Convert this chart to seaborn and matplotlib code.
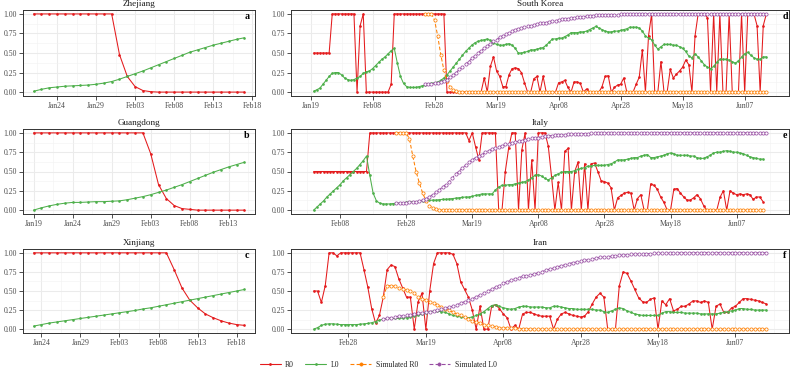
import numpy as np
import pandas as pd
import matplotlib
matplotlib.use("Agg")
import matplotlib.pyplot as plt
import matplotlib.dates as mdates
from matplotlib.lines import Line2D
import seaborn as sns

# ---------------- data ----------------
series_labels = ["R0", "L0", "Simulated R0", "Simulated L0"]
panel_titles = ["Zhejiang", "Guangdong", "Xinjiang", "South Korea", "Italy", "Iran"]
panel_letters = ["a", "b", "c", "d", "e", "f"]
left_tick_dates = ["2020-01-19", "2020-01-24", "2020-01-29", "2020-02-03", "2020-02-08", "2020-02-13", "2020-02-18"]
right_tick_dates = ["2020-01-19", "2020-02-08", "2020-02-28", "2020-03-19", "2020-04-08", "2020-04-28", "2020-05-18", "2020-06-07"]
y_ticks = [0.0, 0.25, 0.5, 0.75, 1.0]

zj_start = "2020-01-21"
zj_r0 = [1, 1, 1, 1, 1, 1, 1, 1, 1, 1, 1, 0.48, 0.2, 0.07, 0.02, 0.005, 0, 0, 0, 0, 0, 0, 0, 0, 0, 0, 0, 0]
zj_l0 = [0.01, 0.035, 0.055, 0.065, 0.075, 0.08, 0.085, 0.09, 0.1, 0.115, 0.135, 0.165, 0.2, 0.235,
         0.27, 0.31, 0.35, 0.39, 0.43, 0.47, 0.51, 0.54, 0.57, 0.6, 0.625, 0.65, 0.675, 0.695]

gd_start = "2020-01-19"
gd_r0 = [1, 1, 1, 1, 1, 1, 1, 1, 1, 1, 1, 1, 1, 1, 1, 0.73, 0.33, 0.15, 0.06, 0.02, 0.01, 0, 0, 0, 0, 0, 0, 0]
gd_l0 = [0.0, 0.03, 0.055, 0.075, 0.09, 0.1, 0.1, 0.105, 0.11, 0.11, 0.115, 0.12, 0.135, 0.155,
         0.175, 0.2, 0.23, 0.26, 0.295, 0.33, 0.37, 0.41, 0.45, 0.49, 0.525, 0.56, 0.59, 0.62]

xj_start = "2020-01-23"
xj_r0 = [1, 1, 1, 1, 1, 1, 1, 1, 1, 1, 1, 1, 1, 1, 1, 1, 1, 1, 0.78, 0.54, 0.38, 0.28, 0.2, 0.15, 0.11, 0.08, 0.06, 0.05]
xj_l0 = [0.04, 0.06, 0.08, 0.095, 0.11, 0.125, 0.14, 0.155, 0.17, 0.185, 0.2, 0.215, 0.23, 0.245,
         0.265, 0.28, 0.3, 0.32, 0.34, 0.36, 0.38, 0.4, 0.42, 0.44, 0.46, 0.48, 0.5, 0.52]

kr_start = "2020-01-20"
kr_r0 = [0.5, 0.5, 0.5, 0.5, 0.5, 0.5, 1, 1, 1, 1, 1, 1, 1, 1, 0, 0.85, 1, 0, 0, 0, 0, 0, 0, 0, 0, 0.1,
         1, 1, 1, 1, 1, 1, 1, 1, 1, 1, 1, 1, 1, 1, 1, 1, 1,
         0, 0, 0, 0, 0, 0, 0, 0, 0, 0, 0, 0,
         0.18, 0, 0.33, 0.45, 0.27, 0.2, 0.07, 0.07, 0.22, 0.3, 0.31, 0.3, 0.25, 0.12, 0,
         0, 0.17, 0.2, 0, 0.2, 0, 0, 0, 0, 0.12,
         0.13, 0.15, 0.06, 0, 0.13, 0.13, 0.11, 0, 0.04, 0,
         0, 0, 0, 0.07, 0.2, 0.21, 0, 0.06, 0.09, 0.1,
         0.18, 0, 0, 0, 0.1, 0.19, 0.54, 0, 0.72, 1,
         0, 0, 0.39, 0, 0, 0.29, 0.18, 0.23, 0.27, 0.32,
         0.41, 0.35, 0, 0.72, 1, 1, 1, 0.95, 0, 1,
         0, 1, 0, 0, 1, 0, 0, 0, 1, 0,
         1, 1, 1, 0.85, 0, 0.85, 1]
kr_l0 = [0.01, 0.03, 0.05, 0.1, 0.15, 0.2, 0.24, 0.25, 0.25, 0.22,
         0.18, 0.16, 0.15, 0.16, 0.18, 0.2, 0.24, 0.26, 0.27, 0.3,
         0.34, 0.38, 0.42, 0.45, 0.49, 0.53, 0.56, 0.37, 0.2, 0.11,
         0.07, 0.06, 0.06, 0.06, 0.07, 0.08, 0.09, 0.1, 0.11, 0.12,
         0.13, 0.15, 0.18, 0.22, 0.27, 0.32, 0.37, 0.42, 0.47, 0.52,
         0.56, 0.6, 0.63, 0.65, 0.66, 0.67, 0.68, 0.66, 0.63, 0.61,
         0.6, 0.6, 0.61, 0.62, 0.6, 0.56, 0.5, 0.5, 0.51, 0.52,
         0.54, 0.54, 0.55, 0.56, 0.57, 0.6, 0.64, 0.68, 0.68, 0.69,
         0.69, 0.71, 0.73, 0.76, 0.76, 0.76, 0.77, 0.77, 0.78, 0.8,
         0.82, 0.84, 0.82, 0.8, 0.78, 0.77, 0.77, 0.78, 0.78, 0.79,
         0.8, 0.81, 0.83, 0.83, 0.83, 0.82, 0.78, 0.72, 0.69, 0.67,
         0.6, 0.55, 0.58, 0.61, 0.61, 0.61, 0.6, 0.6, 0.58, 0.56,
         0.52, 0.46, 0.44, 0.49, 0.45, 0.4, 0.35, 0.32, 0.3, 0.33,
         0.38, 0.42, 0.42, 0.42, 0.41, 0.39, 0.37, 0.4, 0.45, 0.49,
         0.51, 0.47, 0.44, 0.42, 0.42, 0.45, 0.45]
kr_sim_start = "2020-02-25"
kr_sr0 = [1, 1, 1, 0.92, 0.72, 0.48, 0.28, 0.14, 0.06, 0.03, 0.01,
          0, 0, 0, 0, 0, 0, 0, 0, 0, 0, 0, 0, 0, 0, 0, 0, 0, 0, 0, 0,
          0, 0, 0, 0, 0, 0, 0, 0, 0, 0, 0, 0, 0, 0, 0, 0, 0, 0, 0, 0,
          0, 0, 0, 0, 0, 0, 0, 0, 0, 0, 0, 0, 0, 0, 0, 0, 0, 0, 0, 0,
          0, 0, 0, 0, 0, 0, 0, 0, 0, 0, 0, 0, 0, 0, 0, 0, 0, 0, 0, 0,
          0, 0, 0, 0, 0, 0, 0, 0, 0, 0, 0, 0, 0, 0, 0, 0, 0, 0, 0, 0]
kr_sl0 = [0.1, 0.1, 0.105, 0.11, 0.115, 0.125, 0.14, 0.16, 0.19, 0.22,
          0.25, 0.29, 0.32, 0.36, 0.39, 0.43, 0.46, 0.5, 0.53, 0.56,
          0.59, 0.62, 0.65, 0.67, 0.7, 0.72, 0.74, 0.76, 0.78, 0.8,
          0.81, 0.82, 0.83, 0.84, 0.85, 0.86, 0.87, 0.88, 0.885, 0.89,
          0.9, 0.91, 0.915, 0.92, 0.93, 0.935, 0.94, 0.945, 0.95, 0.955,
          0.96, 0.965, 0.97, 0.97, 0.975, 0.98, 0.98, 0.985, 0.985, 0.99,
          0.99, 0.99, 0.99, 0.995, 0.995, 0.995, 0.995, 0.995, 1, 1,
          1, 1, 1, 1, 1, 1, 1, 1, 1, 1, 1, 1, 1, 1, 1, 1, 1, 1, 1, 1,
          1, 1, 1, 1, 1, 1, 1, 1, 1, 1, 1, 1, 1, 1, 1, 1, 1, 1, 1, 1, 1]

it_start = "2020-01-31"
it_r0 = [0.5, 0.5, 0.5, 0.5, 0.5, 0.5, 0.5, 0.5, 0.5, 0.5, 0.5, 0.5, 0.5, 0.5, 0.5, 0.5, 0.5,
         1, 1, 1, 1, 1, 1, 1, 1, 1, 1, 1, 1, 1, 1, 1, 1, 1, 1, 1, 1, 1, 1, 1, 1, 1, 1, 1, 1, 1, 1,
         0.9, 1, 0.82, 0.65,
         1, 1, 1, 1, 1,
         0, 0, 0.5, 0.8, 1, 1, 0, 0.78, 1, 0,
         0.65, 0, 1, 1, 1, 0.83, 0.43, 0, 0.36, 0,
         0.76, 0.8, 0, 0.5, 0.62, 0, 0.6, 0, 0.6, 0.61,
         0.5, 0.38, 0.37, 0.35, 0.29, 0, 0.16, 0.19, 0.22, 0.23,
         0.22, 0, 0.15, 0.2, 0, 0, 0.34, 0.32, 0.27, 0.17,
         0.1, 0, 0, 0.27, 0.28, 0.22, 0.17, 0.13, 0.13, 0.16,
         0.2, 0.15, 0.06, 0, 0, 0, 0, 0.17, 0.25, 0,
         0.25, 0.22, 0.2, 0.21, 0.2, 0.21, 0.2, 0.14, 0.17, 0.17,
         0.11]
it_l0 = [0, 0.04, 0.08, 0.12, 0.17, 0.21, 0.25, 0.29, 0.33, 0.38,
         0.42, 0.46, 0.5, 0.54, 0.59, 0.64, 0.7, 0.45, 0.22, 0.12,
         0.09, 0.08, 0.08, 0.08, 0.085, 0.09, 0.09, 0.095, 0.1, 0.105,
         0.11, 0.11, 0.115, 0.12, 0.12, 0.125, 0.13, 0.13, 0.135, 0.14,
         0.14, 0.145, 0.15, 0.155, 0.16, 0.165, 0.17, 0.17, 0.18, 0.19,
         0.2, 0.21, 0.21, 0.21, 0.21, 0.26, 0.3, 0.32, 0.32, 0.33,
         0.33, 0.34, 0.35, 0.36, 0.37, 0.39, 0.42, 0.45, 0.46, 0.44,
         0.41, 0.39, 0.42, 0.45, 0.47, 0.49, 0.5, 0.5, 0.5, 0.51,
         0.53, 0.54, 0.55, 0.57, 0.57, 0.58, 0.58, 0.58, 0.58, 0.59,
         0.6, 0.62, 0.65, 0.65, 0.65, 0.66, 0.67, 0.68, 0.68, 0.7,
         0.71, 0.72, 0.68, 0.68, 0.69, 0.7, 0.71, 0.73, 0.74, 0.73,
         0.71, 0.71, 0.71, 0.71, 0.7, 0.7, 0.68, 0.67, 0.67, 0.69,
         0.71, 0.74, 0.75, 0.75, 0.76, 0.77, 0.76, 0.75, 0.75, 0.74,
         0.73, 0.71, 0.69, 0.68, 0.67, 0.66, 0.66]
it_sim_start = "2020-02-25"
it_sr0 = [1, 1, 1, 1, 0.92, 0.7, 0.5, 0.35, 0.22, 0.12, 0.06, 0.03, 0.015, 0.005,
          0, 0, 0, 0, 0, 0, 0, 0, 0, 0, 0, 0, 0, 0, 0, 0, 0, 0, 0, 0,
          0, 0, 0, 0, 0, 0, 0, 0, 0, 0, 0, 0, 0, 0, 0, 0, 0, 0, 0, 0,
          0, 0, 0, 0, 0, 0, 0, 0, 0, 0, 0, 0, 0, 0, 0, 0, 0, 0, 0, 0,
          0, 0, 0, 0, 0, 0, 0, 0, 0, 0, 0, 0, 0, 0, 0, 0, 0, 0, 0, 0,
          0, 0, 0, 0, 0, 0, 0, 0, 0, 0, 0, 0, 0, 0, 0, 0, 0, 0]
it_sl0 = [0.09, 0.09, 0.09, 0.095, 0.1, 0.1, 0.11, 0.12, 0.13, 0.15,
          0.17, 0.2, 0.23, 0.26, 0.3, 0.33, 0.37, 0.42, 0.47, 0.5,
          0.55, 0.58, 0.62, 0.65, 0.68, 0.7, 0.72, 0.75, 0.77, 0.79,
          0.8, 0.82, 0.83, 0.85, 0.86, 0.87, 0.88, 0.89, 0.9, 0.91,
          0.92, 0.93, 0.935, 0.94, 0.95, 0.955, 0.96, 0.965, 0.97, 0.972,
          0.975, 0.978, 0.98, 0.982, 0.985, 0.987, 0.99, 0.99, 0.99, 0.992,
          0.994, 0.995, 0.996, 0.997, 0.998, 0.999,
          1, 1, 1, 1, 1, 1, 1, 1, 1, 1, 1, 1, 1, 1, 1, 1, 1, 1, 1, 1, 1, 1, 1,
          1, 1, 1, 1, 1, 1, 1, 1, 1, 1, 1, 1, 1, 1, 1, 1, 1, 1, 1, 1, 1, 1, 1, 1]

ir_start = "2020-02-19"
ir_r0 = [0.5, 0.5, 0.35, 0.57, 1, 1, 0.96, 1, 1, 1,
         1, 1, 1, 0.78, 0.55, 0.27, 0.08, 0.18, 0.42, 0.78,
         0.84, 0.82, 0.66, 0.54, 0.42, 0.42, 0, 0.36, 0.47, 0,
         0.5, 0.86, 1, 1, 1, 1, 0.98, 0.86, 0.62, 0.52,
         0.42, 0.25, 0, 0.3, 0, 0, 0.3, 0.32, 0.27, 0.2,
         0.15, 0, 0.05, 0, 0.2, 0.22, 0.22, 0.2, 0.18, 0.17,
         0.17, 0.17, 0, 0.13, 0.2, 0.22, 0.2, 0.18, 0.17, 0.16,
         0.17, 0.23, 0.33, 0.42, 0.47, 0.42, 0, 0, 0, 0.57,
         0.75, 0.73, 0.63, 0.52, 0.41, 0.36, 0.35, 0.39, 0.41, 0,
         0.37, 0.32, 0.4, 0.24, 0.26, 0.3, 0.3, 0.33, 0.37, 0.37,
         0.35, 0.37, 0.35, 0, 0.3, 0.33, 0.22, 0.22, 0.28, 0.3,
         0.35, 0.4, 0.4, 0.39, 0.38, 0.37, 0.35, 0.33]
ir_l0 = [0, 0.02, 0.05, 0.065, 0.07, 0.07, 0.065, 0.06, 0.06, 0.06,
         0.06, 0.06, 0.065, 0.07, 0.075, 0.085, 0.1, 0.12, 0.13, 0.14,
         0.14, 0.14, 0.14, 0.145, 0.15, 0.16, 0.17, 0.18, 0.2, 0.21,
         0.23, 0.235, 0.235, 0.23, 0.22, 0.2, 0.18, 0.17, 0.16, 0.155,
         0.15, 0.16, 0.18, 0.2, 0.23, 0.27, 0.31, 0.32, 0.3, 0.28,
         0.27, 0.26, 0.27, 0.29, 0.3, 0.3, 0.29, 0.29, 0.29, 0.29,
         0.28, 0.28, 0.3, 0.3, 0.29, 0.28, 0.27, 0.27, 0.26, 0.26,
         0.26, 0.26, 0.26, 0.25, 0.25, 0.23, 0.22, 0.24, 0.26, 0.28,
         0.27, 0.24, 0.22, 0.2, 0.19, 0.18, 0.18, 0.18, 0.18, 0.18,
         0.21, 0.23, 0.23, 0.22, 0.22, 0.22, 0.21, 0.21, 0.21, 0.21,
         0.2, 0.2, 0.2, 0.2, 0.2, 0.21, 0.22, 0.23, 0.24, 0.25,
         0.27, 0.27, 0.26, 0.26, 0.25, 0.25, 0.25, 0.25]
ir_sim_start = "2020-03-08"
ir_sr0 = [0.42, 0.57, 0.57, 0.56, 0.54, 0.53, 0.51, 0.5, 0.47, 0.42,
          0.4, 0.38, 0.36, 0.34, 0.32, 0.29, 0.27, 0.25, 0.22, 0.2,
          0.18, 0.16, 0.13, 0.11, 0.1, 0.08, 0.06, 0.05, 0.04, 0.03,
          0.02, 0.02, 0.015, 0.01, 0.01, 0.008, 0.005, 0.004, 0.003, 0.002, 0.001,
          0, 0, 0, 0, 0, 0, 0, 0, 0, 0, 0, 0, 0, 0, 0, 0, 0, 0, 0, 0,
          0, 0, 0, 0, 0, 0, 0, 0, 0, 0, 0, 0, 0, 0, 0, 0, 0, 0, 0, 0,
          0, 0, 0, 0, 0, 0, 0, 0, 0, 0, 0, 0, 0, 0, 0, 0, 0, 0, 0]
ir_sl0 = [0.13, 0.14, 0.15, 0.16, 0.17, 0.175, 0.18, 0.19, 0.2, 0.21,
          0.215, 0.22, 0.23, 0.24, 0.25, 0.26, 0.275, 0.29, 0.3, 0.32,
          0.34, 0.36, 0.38, 0.4, 0.42, 0.45, 0.47, 0.5, 0.52, 0.55,
          0.57, 0.6, 0.62, 0.64, 0.66, 0.675, 0.69, 0.7, 0.71, 0.72,
          0.74, 0.755, 0.77, 0.785, 0.8, 0.815, 0.83, 0.845, 0.86, 0.87,
          0.88, 0.89, 0.9, 0.91, 0.92, 0.93, 0.94, 0.945, 0.95, 0.955,
          0.96, 0.965, 0.97, 0.975, 0.978, 0.981, 0.984, 0.986, 0.988, 0.99,
          0.992, 0.993, 0.994, 0.995, 0.996, 0.997, 0.998, 0.999,
          1, 1, 1, 1, 1, 1, 1, 1, 1, 1, 1, 1, 1, 1, 1, 1, 1, 1, 1, 1, 1, 1]

# ---------------- style ----------------
sns.set_theme(style="white")
plt.rcParams["font.family"] = ["Liberation Serif", "DejaVu Serif"]

C_R0, C_L0, C_SR0, C_SL0 = "#E41A1C", "#4DAF4A", "#FF7F00", "#984EA3"
W, H = 795, 370
fig = plt.figure(figsize=(W / 100, H / 100), dpi=100)
fig.patch.set_facecolor("white")


def px_axes(x0, y0, x1, y1):
    return fig.add_axes([x0 / W, 1 - y1 / H, (x1 - x0) / W, (y1 - y0) / H])


def draw_series(ax, start, vals, color, sim):
    df = pd.DataFrame({"date": pd.date_range(start, periods=len(vals), freq="D"), "value": vals})
    if sim:
        sns.lineplot(data=df, x="date", y="value", ax=ax, color=color, linewidth=0.75,
                     linestyle=(0, (3.5, 2)), marker="o", markersize=2.3, markerfacecolor="white",
                     markeredgecolor=color, markeredgewidth=0.55, zorder=3)
    else:
        sns.lineplot(data=df, x="date", y="value", ax=ax, color=color, linewidth=0.75,
                     linestyle="-", marker="o", markersize=1.9, markerfacecolor=color,
                     markeredgecolor=color, markeredgewidth=0, zorder=3)
    return df["date"].min(), df["date"].max()


def style_panel(ax, spans, tick_dates, step_days, title, letter, letter_px, panel_px):
    start = min(s for s, e in spans)
    end = max(e for s, e in spans)
    lo, hi = mdates.date2num(start), mdates.date2num(end)
    pad = 0.05 * (hi - lo)
    majors = mdates.date2num(pd.to_datetime(tick_dates))
    ax.set_xticks(majors)
    minors = np.concatenate([[majors[0] - step_days / 2], majors + step_days / 2])
    ax.set_xticks(minors, minor=True)
    ax.xaxis.set_major_formatter(mdates.DateFormatter("%b%d"))
    ax.set_yticks(y_ticks)
    ax.set_yticklabels([f"{v:.2f}" for v in y_ticks])
    ax.set_yticks([0.125, 0.375, 0.625, 0.875], minor=True)
    ax.set_xlim(lo - pad, hi + pad)
    ax.set_ylim(-0.05, 1.05)
    ax.grid(which="major", color="#EBEBEB", linewidth=0.75)
    ax.grid(which="minor", color="#F2F2F2", linewidth=0.4)
    ax.set_axisbelow(True)
    for sp in ax.spines.values():
        sp.set_visible(True)
        sp.set_color("#333333")
        sp.set_linewidth(0.7)
    ax.tick_params(which="major", direction="out", length=2.6, width=0.6, color="#333333",
                   labelsize=5.6, labelcolor="#4D4D4D", pad=1.6, bottom=True, left=True)
    ax.tick_params(which="minor", length=0)
    ax.set_xlabel("")
    ax.set_ylabel("")
    ax.set_title(title, fontsize=6.6, pad=2.6, color="#1A1A1A")
    x0, y0, x1, y1 = panel_px
    lx, ly = letter_px
    ax.text((lx - x0) / (x1 - x0), 1 - (ly - y0) / (y1 - y0), letter, transform=ax.transAxes,
            ha="center", va="center", fontsize=7.2, fontweight="bold", color="black")


rows = [(10, 96), (129, 214), (249, 333)]
left_x = (23, 255)
right_x = (291, 789)

left_panels = [
    (zj_start, zj_r0, zj_l0),
    (gd_start, gd_r0, gd_l0),
    (xj_start, xj_r0, xj_l0),
]
right_panels = [
    (kr_start, kr_r0, kr_l0, kr_sim_start, kr_sr0, kr_sl0),
    (it_start, it_r0, it_l0, it_sim_start, it_sr0, it_sl0),
    (ir_start, ir_r0, ir_l0, ir_sim_start, ir_sr0, ir_sl0),
]

for i, (start, r0, l0) in enumerate(left_panels):
    y0, y1 = rows[i]
    ppx = (left_x[0], y0, left_x[1], y1)
    ax = px_axes(*ppx)
    spans = [draw_series(ax, start, r0, C_R0, False), draw_series(ax, start, l0, C_L0, False)]
    style_panel(ax, spans, left_tick_dates, 5, panel_titles[i], panel_letters[i], (247, y0 + 6.5), ppx)

for i, (start, r0, l0, sstart, sr0, sl0) in enumerate(right_panels):
    y0, y1 = rows[i]
    ppx = (right_x[0], y0, right_x[1], y1)
    ax = px_axes(*ppx)
    spans = [draw_series(ax, start, r0, C_R0, False), draw_series(ax, start, l0, C_L0, False),
             draw_series(ax, sstart, sr0, C_SR0, True), draw_series(ax, sstart, sl0, C_SL0, True)]
    style_panel(ax, spans, right_tick_dates, 20, panel_titles[3 + i], panel_letters[3 + i], (785, y0 + 6.5), ppx)

handles = [
    Line2D([], [], color=C_R0, lw=0.8, ls="-", marker="o", ms=2.0, mfc=C_R0, mew=0),
    Line2D([], [], color=C_L0, lw=0.8, ls="-", marker="o", ms=2.0, mfc=C_L0, mew=0),
    Line2D([], [], color=C_SR0, lw=0.8, ls=(0, (3.5, 2)), marker="o", ms=2.3, mfc=C_SR0, mec=C_SR0, mew=0.5),
    Line2D([], [], color=C_SL0, lw=0.8, ls=(0, (3.5, 2)), marker="o", ms=2.3, mfc=C_SL0, mec=C_SL0, mew=0.5),
]
fig.legend(handles, series_labels, loc="center", bbox_to_anchor=(378 / W, 1 - 365 / H), ncol=4,
           frameon=False, fontsize=5.6, handlelength=2.7, handletextpad=0.6, columnspacing=1.4,
           borderpad=0.1)

fig.savefig("out.png", dpi=100, facecolor="white")
